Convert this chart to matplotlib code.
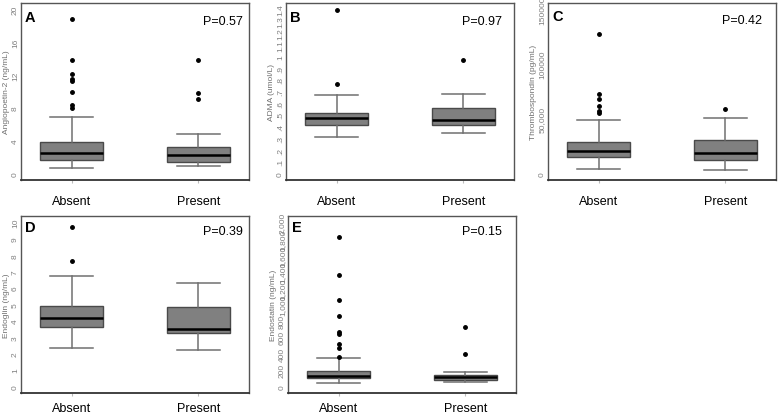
import matplotlib
matplotlib.use("Agg")
import matplotlib.pyplot as plt

plt.rcParams['font.family'] = ['Liberation Sans', 'DejaVu Sans']

groups = ["Absent", "Present"]

# Panel A: Angiopoietin-2 (ng/mL)
a_q1 = [1.7, 1.35]; a_med = [2.5, 2.25]; a_q3 = [3.8, 3.2]
a_lo = [0.65, 0.85]; a_hi = [6.9, 4.8]
a_fl = [[18.8, 13.85, 12.1, 11.55, 11.3, 9.9, 8.3, 8.0], [13.85, 9.8, 9.05]]
a_ticks = [0, 4, 8, 12, 16, 20]
a_ticklabels = ["0", "4", "8", "12", "16", "20"]

# Panel B: ADMA (umol/L)
b_q1 = [0.416, 0.411]; b_med = [0.473, 0.454]; b_q3 = [0.519, 0.559]
b_lo = [0.314, 0.345]; b_hi = [0.672, 0.681]
b_fl = [[1.40, 0.766], [0.969]]
b_ticks = [0, .1, .2, .3, .4, .5, .6, .7, .8, .9, 1.0, 1.1, 1.2, 1.3, 1.4]
b_ticklabels = ["0", ".1", ".2", ".3", ".4", ".5", ".6", ".7", ".8", ".9",
                "1", "1.1", "1.2", "1.3", "1.4"]

# Panel C: Thrombospondin (pg/mL)
c_q1 = [15090, 12730]; c_med = [20900, 18730]; c_q3 = [28450, 30270]
c_lo = [4180, 3270]; c_hi = [48730, 50910]
c_fl = [[127800, 72730, 68450, 61820, 57550, 55450], [59360]]
c_ticks = [0, 50000, 100000, 150000]
c_ticklabels = ["0", "50,000", "100000", "150000"]

# Panel D: Endoglin (ng/mL)
d_q1 = [3.61, 3.24]; d_med = [4.17, 3.52]; d_q3 = [4.91, 4.86]
d_lo = [2.32, 2.24]; d_hi = [6.76, 6.31]
d_fl = [[9.71, 7.63], []]
d_ticks = list(range(0, 11))
d_ticklabels = [str(t) for t in d_ticks]

# Panel E: Endostatin (ng/mL)
e_q1 = [99, 82]; e_med = [131, 111]; e_q3 = [192, 135]
e_lo = [38, 57]; e_hi = [343, 179]
e_fl = [[1827, 1360, 1051, 863, 660, 636, 514, 472, 362], [721, 399]]
e_ticks = list(range(0, 2001, 200))
e_ticklabels = ["0", "200", "400", "600", "800", "1,000", "1,200", "1,400",
                "1,600", "1,800", "2,000"]

panels = [
    dict(letter="A", p="P=0.57", ylabel="Angiopoetin-2 (ng/mL)", ymax=20,
         q1=a_q1, med=a_med, q3=a_q3, lo=a_lo, hi=a_hi, fl=a_fl,
         ticks=a_ticks, tl=a_ticklabels),
    dict(letter="B", p="P=0.97", ylabel="ADMA (umol/L)", ymax=1.4,
         q1=b_q1, med=b_med, q3=b_q3, lo=b_lo, hi=b_hi, fl=b_fl,
         ticks=b_ticks, tl=b_ticklabels),
    dict(letter="C", p="P=0.42", ylabel="Thrombospondin (pg/mL)", ymax=150000,
         q1=c_q1, med=c_med, q3=c_q3, lo=c_lo, hi=c_hi, fl=c_fl,
         ticks=c_ticks, tl=c_ticklabels),
    dict(letter="D", p="P=0.39", ylabel="Endoglin (ng/mL)", ymax=10,
         q1=d_q1, med=d_med, q3=d_q3, lo=d_lo, hi=d_hi, fl=d_fl,
         ticks=d_ticks, tl=d_ticklabels),
    dict(letter="E", p="P=0.15", ylabel="Endostatin (ng/mL)", ymax=2000,
         q1=e_q1, med=e_med, q3=e_q3, lo=e_lo, hi=e_hi, fl=e_fl,
         ticks=e_ticks, tl=e_ticklabels),
]

W, H = 778, 414
# layout in pixels: left, bottom(y from top), P-text right edge, P/letter y offset, x-label pad (pt)
layout = [
    (21, 181, 243, 14, 9.0),
    (286, 181, 502, 14, 9.0),
    (548, 181, 762, 13, 9.0),
    (21, 394, 243, 11, 4.5),
    (288, 394, 502, 11, 4.5),
]
AW, AH = 228, 177

fig = plt.figure(figsize=(W / 100, H / 100), dpi=100)

for pan, (lx, by, pr, toff, xpad) in zip(panels, layout):
    ax = fig.add_axes([lx / W, 1 - by / H, AW / W, AH / H])
    stats = []
    for i in range(2):
        stats.append(dict(q1=pan["q1"][i], med=pan["med"][i], q3=pan["q3"][i],
                          whislo=pan["lo"][i], whishi=pan["hi"][i],
                          fliers=pan["fl"][i], label=groups[i]))
    ax.bxp(stats, positions=[1, 2], widths=0.5, patch_artist=True,
           boxprops=dict(facecolor="#808080", edgecolor="#4a4a4a", linewidth=1.0),
           medianprops=dict(color="black", linewidth=1.8),
           whiskerprops=dict(color="#707070", linewidth=1.1),
           capprops=dict(color="#707070", linewidth=1.1),
           capwidths=0.34,
           flierprops=dict(marker="o", markerfacecolor="black",
                           markeredgecolor="black", markersize=2.5))
    ymax = pan["ymax"]
    ax.set_ylim(-0.04 * ymax, 1.04 * ymax)
    ax.set_xlim(0.6, 2.4)
    ax.set_yticks(pan["ticks"])
    ax.set_yticklabels(pan["tl"])
    ax.tick_params(axis="y", length=0, labelsize=6, labelcolor="#808080",
                   labelrotation=90, pad=1.5)
    for t in ax.get_yticklabels():
        t.set_verticalalignment("center")
    ax.set_xticks([1, 2])
    ax.set_xticklabels(groups)
    ax.tick_params(axis="x", length=2, width=0.8, color="#bbbbbb",
                   labelsize=9, labelcolor="black", pad=xpad)
    ax.set_ylabel(pan["ylabel"], fontsize=6, color="#707070")
    ax.yaxis.set_label_coords(-11 / AW, 0.5)
    for s in ax.spines.values():
        s.set_color("#555555")
        s.set_linewidth(1.0)
    ax.spines["bottom"].set_color("#333333")
    ax.spines["bottom"].set_linewidth(1.3)
    ax.text(4 / AW, 1 - toff / AH, pan["letter"], transform=ax.transAxes,
            fontsize=10.5, fontweight="bold", ha="left", va="center")
    ax.text((pr - lx) / AW, 1 - (toff + 4) / AH, pan["p"], transform=ax.transAxes,
            fontsize=9, ha="right", va="center")

fig.savefig("out.png", dpi=100, facecolor="white")
